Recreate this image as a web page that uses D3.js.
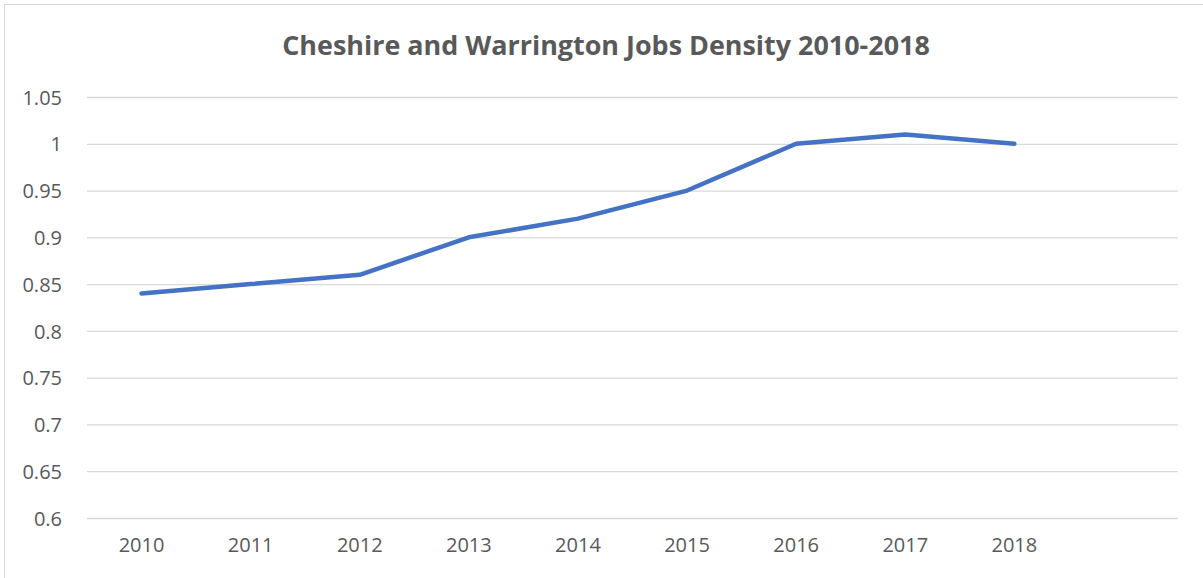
<!DOCTYPE html>
<html><head><meta charset="utf-8">
<script src="https://cdn.jsdelivr.net/npm/d3@7"></script>
<style>
html,body{margin:0;padding:0;background:#fff;}
svg{display:block;font-family:"Open Sans",sans-serif;}
</style></head>
<body><svg id="chart" width="1203" height="578"></svg>
<script>
const title = "Cheshire and Warrington Jobs Density 2010-2018";
const categories = ["2010","2011","2012","2013","2014","2015","2016","2017","2018"];
const values = [0.84, 0.85, 0.86, 0.90, 0.92, 0.95, 1.00, 1.01, 1.00];
const yTicks = [0.6, 0.65, 0.7, 0.75, 0.8, 0.85, 0.9, 0.95, 1, 1.05];

const FONT = '"Open Sans", sans-serif';
const svg = d3.select("#chart");
const W = 1203, H = 578;
const m = {left: 87, right: 25, top: 97, bottom: 60};

// chart border
svg.append("rect").attr("x", 4.5).attr("y", 4.5).attr("width", W + 10).attr("height", H + 10)
  .attr("fill", "#fff").attr("stroke", "#d9d9d9").attr("stroke-width", 1);

const x = d3.scaleBand().domain([...categories, "__empty"]).range([m.left, W - m.right]);
const y = d3.scaleLinear().domain([0.6, 1.05]).range([H - m.bottom, m.top]);

// gridlines
const yAxis = d3.axisLeft(y).tickValues(yTicks).tickSize(-(W - m.right - m.left))
  .tickPadding(25).tickFormat(d => d3.format("")(+d.toFixed(2)));
const gy = svg.append("g").attr("transform", `translate(${m.left},0)`).call(yAxis)
  .attr("font-family", FONT).attr("font-size", 20);
gy.select(".domain").remove();
gy.selectAll(".tick line").attr("stroke", "#d9d9d9").attr("stroke-width", 1.3);
gy.selectAll(".tick text").attr("fill", "#595959").attr("dy", "0.36em");

// x axis labels
const xAxis = d3.axisBottom(x).tickSize(0).tickPadding(20)
  .tickFormat(d => d === "__empty" ? "" : d);
const gx = svg.append("g").attr("transform", `translate(0,${H - m.bottom})`).call(xAxis)
  .attr("font-family", FONT).attr("font-size", 20);
gx.select(".domain").remove();
gx.selectAll(".tick text").attr("fill", "#595959");

// line
const line = d3.line().x((d, i) => x(categories[i]) + x.bandwidth() / 2).y(d => y(d));
svg.append("path").datum(values).attr("d", line).attr("fill", "none")
  .attr("stroke", "#4472C4").attr("stroke-width", 4.5)
  .attr("stroke-linejoin", "round").attr("stroke-linecap", "round");

// title
const t = svg.append("text").attr("x", 606).attr("y", 55).attr("text-anchor", "middle")
  .attr("fill", "#595959").attr("font-family", FONT).style("font-weight", "bold").style("font-size", "24px").text(title);
const len = t.node().getComputedTextLength();
t.style("font-size", (24 * 648 / len) + "px");
</script></body></html>
